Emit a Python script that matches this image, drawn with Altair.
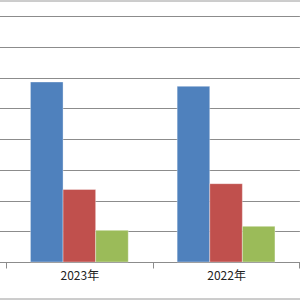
import altair as alt
import pandas as pd

categories = ["2023年", "2022年"]
series = ["系列1", "系列2", "系列3"]
values = {
    "系列1": [5.86, 5.72],
    "系列2": [2.36, 2.55],
    "系列3": [1.03, 1.16],
}
colors = ["#4F81BD", "#C0504D", "#9BBB59"]
grid_values = [0, 1, 2, 3, 4, 5, 6, 7, 8]

rows = []
for s in series:
    for c, v in zip(categories, values[s]):
        rows.append({"年份": c, "系列": s, "值": v})
df = pd.DataFrame(rows)

x_domain = [""] + categories

bars = alt.Chart(df).mark_bar(
    stroke="white", strokeOpacity=0.35, strokeWidth=1
).encode(
    x=alt.X(
        "年份:N",
        scale=alt.Scale(domain=x_domain, range=[-140.7, 299.4], paddingInner=0, paddingOuter=0),
        axis=alt.Axis(
            title=None,
            labelAngle=0,
            tickBand="extent",
            tickSize=6,
            tickColor="#8c8c8c",
            domainColor="#8c8c8c",
            labelFont="Noto Sans CJK SC",
            labelFontSize=12,
            labelColor="#222222",
            labelPadding=2,
            grid=False,
        ),
    ),
    xOffset=alt.XOffset(
        "系列:N",
        scale=alt.Scale(domain=series, paddingInner=0, paddingOuter=0.75),
    ),
    y=alt.Y(
        "值:Q",
        scale=alt.Scale(domain=[0, 8.53], nice=False, zero=True),
        axis=alt.Axis(
            title=None,
            labels=False,
            ticks=False,
            domain=False,
            values=grid_values,
            grid=True,
            gridColor="#8c8c8c",
            gridWidth=1,
        ),
    ),
    color=alt.Color("系列:N", scale=alt.Scale(domain=series, range=colors), legend=None),
)

border = pd.DataFrame({"k": [0]})
top_line = alt.Chart(border).mark_rule(color="#9a9a9a", strokeWidth=1).encode(
    x=alt.value(0), x2=alt.value(300), y=alt.value(1)
)
bottom_line = alt.Chart(border).mark_rule(color="#9a9a9a", strokeWidth=1).encode(
    x=alt.value(0), x2=alt.value(300), y=alt.value(299)
)

chart = alt.layer(bars, top_line, bottom_line).properties(
    width=300,
    height=262,
    autosize=alt.AutoSizeParams(type="none"),
    padding={"left": 0, "top": 0, "right": 0, "bottom": 38},
    background="white",
).configure_view(stroke=None)

chart.save("out.html", embed_options={"renderer": "svg", "actions": False})
